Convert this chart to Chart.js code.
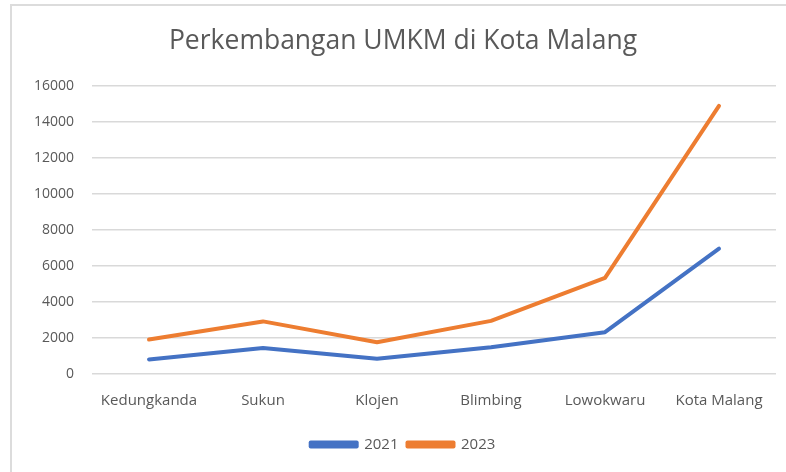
<!DOCTYPE html>
<html>
<head>
<meta charset="utf-8">
<script src="https://cdn.jsdelivr.net/npm/chart.js@4/dist/chart.umd.min.js"></script>
<style>
  html, body { margin: 0; padding: 0; background: #fff; }
  #wrap { position: relative; width: 786px; height: 472px; }
  #frame { position: absolute; left: 10px; top: 4px; right: 0; bottom: 0;
           border-left: 2px solid #dcdcdc; border-top: 2px solid #dcdcdc; }
  #myChart { position: absolute; left: 0; top: 0; }
</style>
</head>
<body>
<div id="wrap">
  <div id="frame"></div>
  <canvas id="myChart" width="786" height="472"></canvas>
</div>
<script>
// data
const categories = ['Kedungkanda', 'Sukun', 'Klojen', 'Blimbing', 'Lowokwaru', 'Kota Malang'];
const values2021 = [810, 1440, 850, 1490, 2320, 6960];
const values2023 = [1910, 2920, 1760, 2950, 5340, 14890];
const yTicks = [0, 2000, 4000, 6000, 8000, 10000, 12000, 14000, 16000];

const textColor = '#595959';
const fontFamily = '"Open Sans", "Liberation Sans", sans-serif';

const ctx = document.getElementById('myChart').getContext('2d');

new Chart(ctx, {
  type: 'line',
  data: {
    labels: categories,
    datasets: [{
      label: '2021',
      data: values2021,
      borderColor: '#4472C4',
      backgroundColor: '#4472C4',
      borderWidth: 4,
      pointRadius: 0,
      tension: 0,
      borderCapStyle: 'round',
      borderJoinStyle: 'round'
    }, {
      label: '2023',
      data: values2023,
      borderColor: '#ED7D31',
      backgroundColor: '#ED7D31',
      borderWidth: 4,
      pointRadius: 0,
      tension: 0,
      borderCapStyle: 'round',
      borderJoinStyle: 'round'
    }]
  },
  options: {
    responsive: false,
    animation: false,
    layout: { padding: { left: 30, right: 10, top: 0, bottom: 10 } },
    plugins: {
      title: {
        display: true,
        text: 'Perkembangan UMKM di Kota Malang',
        color: textColor,
        font: { family: fontFamily, size: 26.5, weight: 'normal' },
        padding: { top: 26, bottom: 28 }
      },
      legend: {
        position: 'bottom',
        labels: {
          color: textColor,
          font: { family: fontFamily, size: 15 },
          boxWidth: 46,
          boxHeight: 4,
          padding: 9
        }
      },
      tooltip: { enabled: false }
    },
    scales: {
      x: {
        offset: true,
        grid: { display: false, drawTicks: false },
        border: { display: false },
        ticks: {
          color: textColor,
          font: { family: fontFamily, size: 15 },
          padding: 18,
          maxRotation: 0
        }
      },
      y: {
        min: 0,
        max: 16000,
        afterBuildTicks: function(scale) {
          scale.ticks = yTicks.map(v => ({ value: v }));
        },
        afterFit: function(scale) {
          scale.width = 62;
        },
        grid: { color: '#d9d9d9', lineWidth: 1.5, drawTicks: false },
        border: { display: false },
        ticks: {
          color: textColor,
          font: { family: fontFamily, size: 14 },
          padding: 18,
          callback: function(value) { return String(value); }
        }
      }
    }
  }
});
</script>
</body>
</html>
